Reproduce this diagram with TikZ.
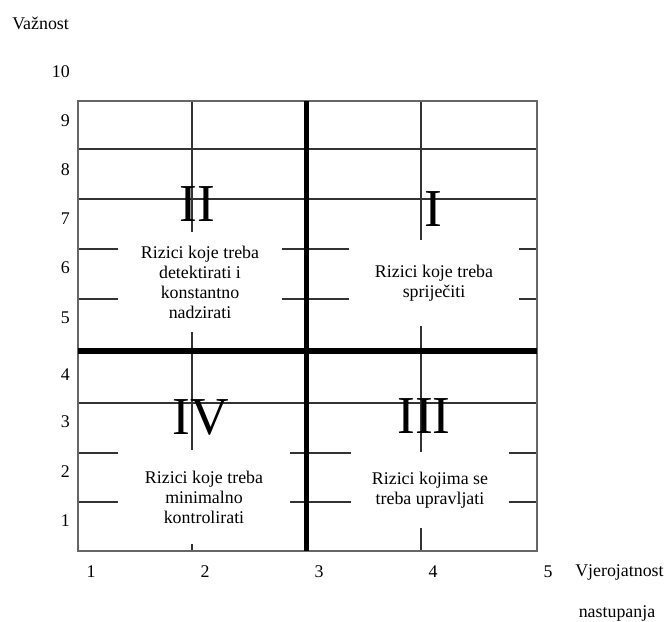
\documentclass[tikz,border=0pt]{standalone}
\usepackage{fontspec}
\setmainfont{Liberation Serif}
\usepackage{tikz}

\begin{document}
\begin{tikzpicture}[x=0.75pt,y=-0.75pt]
    \tikzstyle{thin line}=[draw=black!80,line width=0.8pt]
    \tikzstyle{frame line}=[draw=black!60,line width=1pt]
    \tikzstyle{thick line}=[draw=black,line width=3.8pt]
    \tikzstyle{risk box}=[fill=white,inner sep=0pt,align=center,font=\fontsize{13.4}{15}\selectfont]
    \tikzstyle{roman}=[inner sep=0pt,font=\fontsize{40}{40}\selectfont]
    \tikzstyle{tick}=[inner sep=0pt,font=\fontsize{13.4}{15}\selectfont]
    \useasboundingbox (0,0) rectangle (666,621);
    \fill[white] (0,0) rectangle (666,621);
    \draw[thin line] (78,149) -- (537,149);
    \draw[thin line] (78,199) -- (537,199);
    \draw[thin line] (78,249) -- (537,249);
    \draw[thin line] (78,299) -- (537,299);
    \draw[thin line] (78,403) -- (537,403);
    \draw[thin line] (78,453) -- (537,453);
    \draw[thin line] (78,502) -- (537,502);
    \draw[thin line] (192,101) -- (192,551);
    \draw[thin line] (421,101) -- (421,551);
    \draw[frame line] (78,101) rectangle (537,551);
    \draw[thick line] (306.5,101) -- (306.5,551);
    \draw[thick line] (78,351) -- (537,351);
    % quadrants
    \node[risk box,minimum width=123pt,minimum height=75pt] (risk2) at (200,282)
      {Rizici koje treba\\detektirati i\\konstantno\\nadzirati};
    \node[risk box,minimum width=128pt,minimum height=65pt] (risk1) at (434,283)
      {Rizici koje treba\\spriječiti};
    \node[risk box,minimum width=129pt,minimum height=70pt] (risk4) at (204,497)
      {Rizici koje treba\\minimalno\\kontrolirati};
    \node[risk box,minimum width=119pt,minimum height=57pt] (risk3) at (430,490)
      {Rizici kojima se\\treba upravljati};
    \node[roman] (q2) at (197,204) {II};
    \node[roman] (q1) at (433,209) {I};
    \node[roman] (q4) at (201,417) {IV};
    \node[roman] (q3) at (424,416) {III};
    % axes
    \node[tick,anchor=west] (vaznost) at (12,23) {Važnost};
    \node[tick,anchor=east] (v10) at (70,72) {10};
    \node[tick,anchor=east] (v9) at (70,121) {9};
    \node[tick,anchor=east] (v8) at (70,170) {8};
    \node[tick,anchor=east] (v7) at (70,219) {7};
    \node[tick,anchor=east] (v6) at (70,268) {6};
    \node[tick,anchor=east] (v5) at (70,318) {5};
    \node[tick,anchor=east] (v4) at (70,375) {4};
    \node[tick,anchor=east] (v3) at (70,422) {3};
    \node[tick,anchor=east] (v2) at (70,472) {2};
    \node[tick,anchor=east] (v1) at (70,521) {1};
    \node[tick] (p1) at (91,572) {1};
    \node[tick] (p2) at (205,572) {2};
    \node[tick] (p3) at (319,572) {3};
    \node[tick] (p4) at (433,572) {4};
    \node[tick] (p5) at (548,572) {5};
    \node[tick,anchor=west] (vjerojatnost) at (575,572) {Vjerojatnost};
    \node[tick] (nastupanja) at (617,613) {nastupanja};
\end{tikzpicture}
\end{document}
